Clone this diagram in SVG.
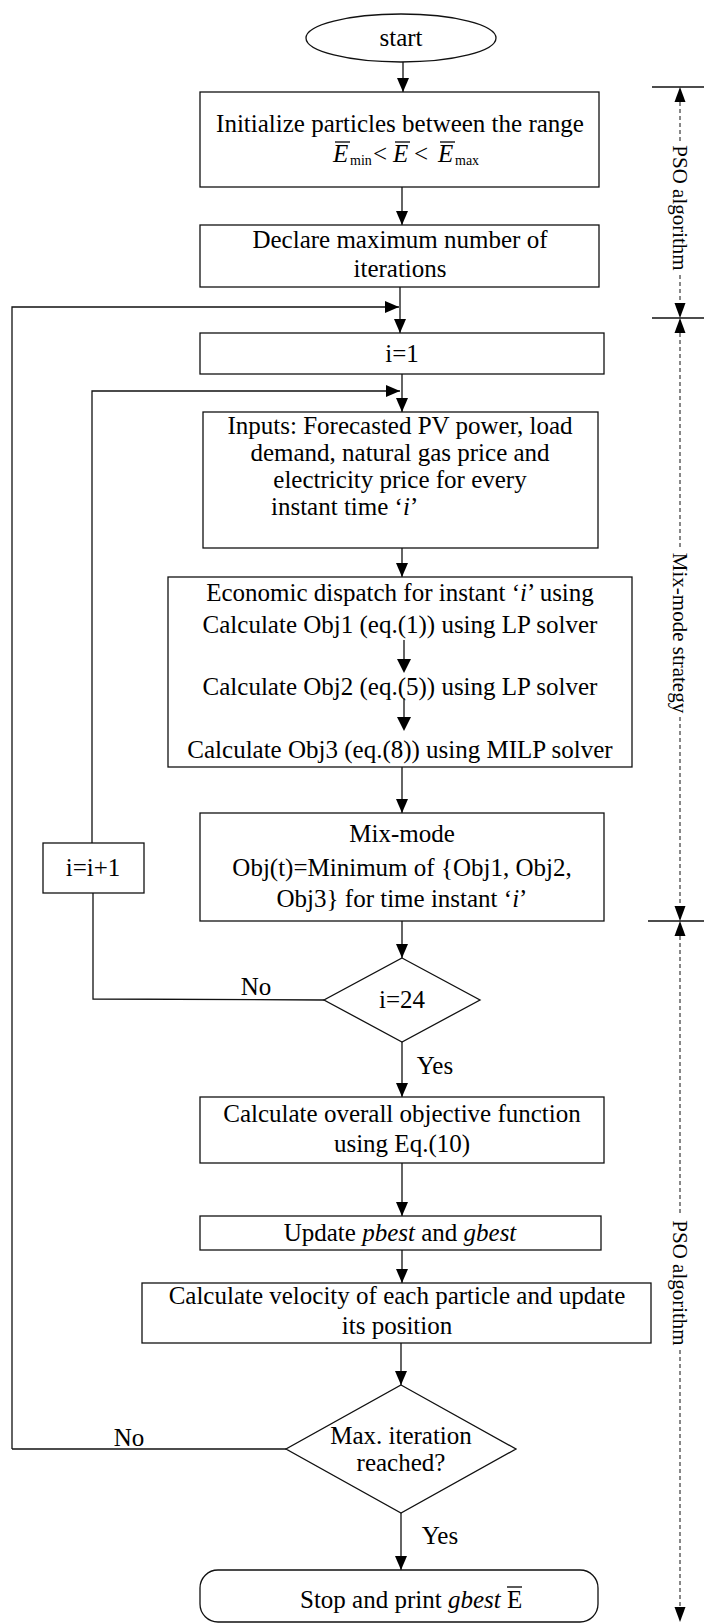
<svg xmlns="http://www.w3.org/2000/svg" width="704" height="1623" viewBox="0 0 704 1623">
<style>
.t{font-family:"Liberation Serif","Times New Roman",serif;font-size:25px;fill:#000;text-anchor:middle}
.s{text-anchor:start}
.i{font-style:italic}
.sub{font-family:"Liberation Serif","Times New Roman",serif;font-size:14px;fill:#000}
.v{font-family:"Liberation Serif","Times New Roman",serif;font-size:21px;fill:#000;text-anchor:middle}
.b{fill:#fff;stroke:#111;stroke-width:1.3}
.c{fill:none;stroke:#111;stroke-width:1.3}
.d{fill:none;stroke:#111;stroke-width:1;stroke-dasharray:4 3}
.o{stroke:#000;stroke-width:1.3}
</style>
<defs>
<marker id="ah" markerUnits="userSpaceOnUse" markerWidth="14" markerHeight="12" viewBox="0 0 14 12" refX="14" refY="6" orient="auto"><path d="M0,0 L14,6 L0,12 z" fill="#000"/></marker>
</defs>
<rect width="704" height="1623" fill="#fff"/>

<g id="connectors">
<line class="c" x1="403" y1="62" x2="403" y2="92" marker-end="url(#ah)"/>
<line class="c" x1="402" y1="187" x2="402" y2="225" marker-end="url(#ah)"/>
<line class="c" x1="400" y1="287" x2="400" y2="333" marker-end="url(#ah)"/>
<polyline class="c" points="12,1449 12,307 399,307" marker-end="url(#ah)"/>
<line class="c" x1="402" y1="374" x2="402" y2="412" marker-end="url(#ah)"/>
<polyline class="c" points="92,843 92,391 400,391" marker-end="url(#ah)"/>
<line class="c" x1="402" y1="548" x2="402" y2="577" marker-end="url(#ah)"/>
<line class="c" x1="402" y1="767" x2="402" y2="813" marker-end="url(#ah)"/>
<line class="c" x1="402" y1="921" x2="402" y2="958" marker-end="url(#ah)"/>
<polyline class="c" points="324,1000 93,999 93,893"/>
<line class="c" x1="402" y1="1042" x2="402" y2="1097" marker-end="url(#ah)"/>
<line class="c" x1="402" y1="1163" x2="402" y2="1216" marker-end="url(#ah)"/>
<line class="c" x1="402" y1="1250" x2="402" y2="1283" marker-end="url(#ah)"/>
<line class="c" x1="401" y1="1343" x2="401" y2="1385" marker-end="url(#ah)"/>
<line class="c" x1="286" y1="1449" x2="12" y2="1449"/>
<line class="c" x1="401" y1="1513" x2="401" y2="1570" marker-end="url(#ah)"/>
<text class="t" x="256" y="995">No</text>
<text class="t" x="435" y="1074">Yes</text>
<text class="t" x="129" y="1446">No</text>
<text class="t" x="440" y="1544">Yes</text>
</g>

<g id="start">
<ellipse class="b" cx="401" cy="38" rx="95" ry="24"/>
<text class="t" x="401" y="46">start</text>
</g>

<g id="init">
<rect class="b" x="200" y="92" width="399" height="95"/>
<text class="t" x="400" y="132">Initialize particles between the range</text>
<text class="t i s" x="333" y="162">E</text>
<text class="sub" x="350" y="165">min</text>
<text class="t s" x="373" y="162">&lt;</text>
<text class="t i s" x="393" y="162">E</text>
<text class="t s" x="414" y="162">&lt;</text>
<text class="t i s" x="438" y="162">E</text>
<text class="sub" x="455" y="165">max</text>
<line class="o" x1="335" y1="142" x2="350" y2="142"/>
<line class="o" x1="395" y1="142" x2="410" y2="142"/>
<line class="o" x1="440" y1="142" x2="455" y2="142"/>
</g>

<g id="declare">
<rect class="b" x="200" y="225" width="399" height="62"/>
<text class="t" x="400" y="248">Declare maximum number of</text>
<text class="t" x="400" y="277">iterations</text>
</g>

<g id="i1">
<rect class="b" x="200" y="333" width="404" height="41"/>
<text class="t" x="402" y="362">i=1</text>
</g>

<g id="inputs">
<rect class="b" x="203" y="412" width="395" height="136"/>
<text class="t" x="400" y="434">Inputs: Forecasted PV power, load</text>
<text class="t" x="400" y="461">demand, natural gas price and</text>
<text class="t" x="400" y="488">electricity price for every</text>
<text class="t s" x="271" y="515">instant time ‘<tspan class="i">i</tspan>’</text>
</g>

<g id="dispatch">
<rect class="b" x="168" y="577" width="464" height="190"/>
<text class="t" x="400" y="601">Economic dispatch for instant ‘<tspan class="i">i</tspan>’ using</text>
<text class="t" x="400" y="633">Calculate Obj1 (eq.(1)) using LP solver</text>
<text class="t" x="400" y="695">Calculate Obj2 (eq.(5)) using LP solver</text>
<text class="t" x="400" y="758">Calculate Obj3 (eq.(8)) using MILP solver</text>
<line class="c" x1="404" y1="640" x2="404" y2="660"/>
<line class="c" x1="404" y1="698" x2="404" y2="718"/>
<path d="M397,659 L411,659 L404,673 z" fill="#000"/>
<path d="M397,717 L411,717 L404,731 z" fill="#000"/>
</g>

<g id="mixmode">
<rect class="b" x="200" y="813" width="404" height="108"/>
<text class="t" x="402" y="842">Mix-mode</text>
<text class="t" x="402" y="876">Obj(t)=Minimum of {Obj1, Obj2,</text>
<text class="t" x="402" y="907">Obj3} for time instant ‘<tspan class="i">i</tspan>’</text>
</g>

<g id="inc">
<rect class="b" x="43" y="843" width="101" height="50"/>
<text class="t" x="93" y="876">i=i+1</text>
</g>

<g id="check24">
<polygon class="b" points="402,958 480,1000 402,1042 324,1000"/>
<text class="t" x="402" y="1008">i=24</text>
</g>

<g id="overall">
<rect class="b" x="200" y="1097" width="404" height="66"/>
<text class="t" x="402" y="1122">Calculate overall objective function</text>
<text class="t" x="402" y="1152">using Eq.(10)</text>
</g>

<g id="update">
<rect class="b" x="200" y="1216" width="401" height="34"/>
<text class="t" x="400" y="1241">Update <tspan class="i">pbest</tspan> and <tspan class="i">gbest</tspan></text>
</g>

<g id="velocity">
<rect class="b" x="142" y="1283" width="509" height="60"/>
<text class="t" x="397" y="1304">Calculate velocity of each particle and update</text>
<text class="t" x="397" y="1334">its position</text>
</g>

<g id="maxiter">
<polygon class="b" points="401,1385 516,1449 401,1513 286,1449"/>
<text class="t" x="401" y="1444">Max. iteration</text>
<text class="t" x="401" y="1471">reached?</text>
</g>

<g id="stop">
<rect class="b" x="200" y="1570" width="398" height="52" rx="18"/>
<text class="t s" x="300" y="1608">Stop and print <tspan class="i">gbest</tspan> E</text>
<line class="o" x1="507" y1="1587" x2="522" y2="1587"/>
</g>

<g id="phases">
<line class="c" x1="652" y1="87" x2="704" y2="87"/>
<line class="c" x1="652" y1="318" x2="704" y2="318"/>
<line class="c" x1="648" y1="921" x2="704" y2="921"/>
<path d="M680,87 L674.5,102 L685.5,102 z" fill="#000"/>
<line class="d" x1="680" y1="102" x2="680" y2="141"/>
<text class="v" transform="translate(680 208) rotate(90)" y="7">PSO algorithm</text>
<line class="d" x1="680" y1="275" x2="680" y2="303"/>
<path d="M680,318 L674.5,303 L685.5,303 z" fill="#000"/>
<path d="M680,318 L674.5,333 L685.5,333 z" fill="#000"/>
<line class="d" x1="680" y1="333" x2="680" y2="549"/>
<text class="v" transform="translate(680 633) rotate(90)" y="7">Mix-mode strategy</text>
<line class="d" x1="680" y1="717" x2="680" y2="906"/>
<path d="M680,921 L674.5,906 L685.5,906 z" fill="#000"/>
<path d="M680,921 L674.5,936 L685.5,936 z" fill="#000"/>
<line class="d" x1="680" y1="936" x2="680" y2="1216"/>
<text class="v" transform="translate(680 1283) rotate(90)" y="7">PSO algorithm</text>
<line class="d" x1="680" y1="1350" x2="680" y2="1607"/>
<path d="M680,1622 L674.5,1607 L685.5,1607 z" fill="#000"/>
</g>
</svg>
